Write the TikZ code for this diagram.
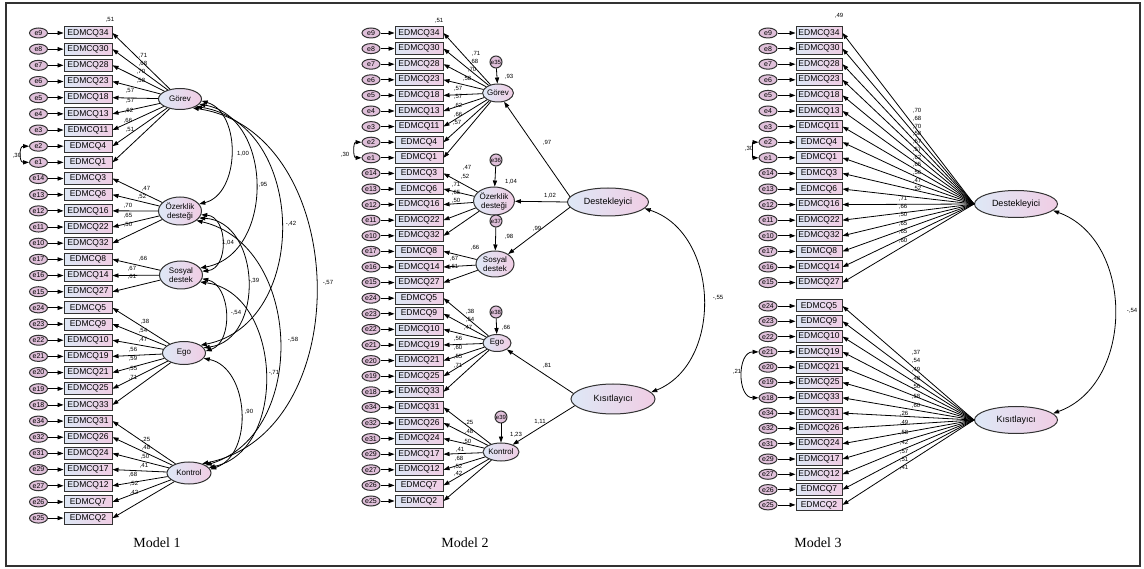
\documentclass[tikz,border=0pt]{standalone}
\usepackage{fontspec}
\setmainfont{Liberation Serif}
\newfontfamily\arialf{Liberation Sans}
\usetikzlibrary{arrows.meta,shapes.geometric}
\definecolor{bxblue}{RGB}{222,232,246}
\definecolor{bxpink}{RGB}{240,205,228}
\definecolor{errfill}{RGB}{224,192,218}
\definecolor{edgec}{RGB}{50,50,50}
\tikzset{
 itembox/.style={draw=edgec, line width=1pt, left color=bxblue, right color=bxpink, minimum width=48pt, minimum height=12pt, inner sep=0pt, font=\arialf\fontsize{8.5}{9}\selectfont},
 errnode/.style={ellipse, draw=edgec, line width=1pt, fill=errfill, minimum width=18pt, minimum height=10pt, inner sep=0pt, font=\arialf\fontsize{7}{7}\selectfont},
 latent/.style={ellipse, draw=edgec, line width=1pt, left color=bxblue, right color=bxpink, inner sep=0pt, font=\arialf\fontsize{8}{9}\selectfont, align=center},
 bigfont/.style={font=\arialf\fontsize{9}{10}\selectfont},
 resid/.style={circle, draw=edgec, line width=1pt, fill=errfill, minimum size=12pt, inner sep=0pt, font=\arialf\fontsize{6}{6}\selectfont},
 val/.style={font=\arialf\fontsize{6}{6}\selectfont, inner sep=0pt},
 arr/.style={-{Triangle[length=6pt,width=4.2pt]}, line width=0.8pt},
 dbl/.style={{Triangle[length=6pt,width=4.2pt]}-{Triangle[length=6pt,width=4.2pt]}, line width=0.8pt},
 title/.style={font=\fontsize{14}{16}\selectfont},
}
\def\itemlist{34/9,30/8,28/7,23/6,18/5,13/4,11/3,4/2,1/1,3/14,6/13,16/12,22/11,32/10,8/17,14/16,27/15,5/24,9/23,10/22,19/21,21/20,25/19,33/18,31/34,26/32,24/31,17/29,12/27,7/26,2/25}
\begin{document}
\begin{tikzpicture}[x=1pt,y=-1pt]
\useasboundingbox (0,0) rectangle (1144,569);
\draw[line width=1.2pt, edgec] (6,3) rectangle (1140,566);

% ---------------- Model 1 ----------------
\foreach [count=\i from 0] \q/\e in \itemlist {
  \pgfmathsetmacro\yy{33+16.17*\i}
  \node[itembox] (m1b\i) at (88,\yy) {EDMCQ\q};
  \node[errnode] (m1e\i) at (38.5,\yy) {e\e};
  \draw[arr] (m1e\i) -- (m1b\i);
}
\node[latent, minimum width=43pt, minimum height=21pt] (m1gor) at (180,99) {Görev};
\node[latent, minimum width=43pt, minimum height=28pt] (m1ozk) at (180,211) {Özerklik\\desteği};
\node[latent, minimum width=43pt, minimum height=28pt] (m1sos) at (181,275) {Sosyal\\destek};
\node[latent, minimum width=43pt, minimum height=23pt] (m1ego) at (184,353) {Ego};
\node[latent, minimum width=44pt, minimum height=22pt] (m1kon) at (189,473) {Kontrol};
\foreach \i in {0,...,8} \draw[arr] (m1gor) -- (m1b\i.east);
\foreach \i in {9,...,13} \draw[arr] (m1ozk) -- (m1b\i.east);
\foreach \i in {14,...,16} \draw[arr] (m1sos) -- (m1b\i.east);
\foreach \i in {17,...,23} \draw[arr] (m1ego) -- (m1b\i.east);
\foreach \i in {24,...,30} \draw[arr] (m1kon) -- (m1b\i.east);
\foreach [count=\n] \x/\y/\t in {143/56/71,143/64/68,141/72/70,141/81/58,130/91/57,130/101/57,129/111/62,128/121/66,130/130/51,
 146/189/47,142/197/52,128/206/70,128/216/65,128/225/50,143/259/66,132/269/67,132/277/61,
 145/322/38,143/331/54,143/340/47,133/350/56,133/359/59,133/369/55,133/378/71,
 146/440/25,146/448/48,145/457/50,144/466/41,133/475/68,134/484/52,134/493/42}
 {\node[val] (m1l\n) at (\x,\y) {,\t};}
\node[val] (m1r2) at (110,20) {,51};
\draw[dbl] (m1e7.west) to[bend right=90, looseness=1.6] (m1e8.west);
\node[val] (m1c) at (17,156) {,30};
% covariances
\draw[dbl] (m1gor.-5) to[bend left=75, looseness=1.04] (m1ozk.20);
\draw[dbl] (m1gor.-15) to[bend left=80, looseness=1.18] (m1sos.20);
\draw[dbl] (m1gor.-25) to[bend left=80, looseness=1.2] (m1ego.25);
\draw[dbl] (m1gor.-35) to[bend left=80, looseness=1.15] (m1kon.35);
\draw[dbl] (m1ozk.-10) to[bend left=85, looseness=1.22] (m1sos.10);
\draw[dbl] (m1ozk.-20) to[bend left=85, looseness=1.22] (m1ego.15);
\draw[dbl] (m1ozk.-30) to[bend left=75, looseness=1.13] (m1kon.25);
\draw[dbl] (m1sos.-10) to[bend left=75, looseness=1.04] (m1ego.5);
\draw[dbl] (m1sos.-20) to[bend left=80, looseness=1.13] (m1kon.15);
\draw[dbl] (m1ego.-15) to[bend left=75, looseness=1.07] (m1kon.10);
\node[val] (m1c1) at (243,154) {1,00};
\node[val] (m1c2) at (263,185) {,95};
\node[val] (m1c3) at (291,224) {-,42};
\node[val] (m1c4) at (328,283) {-,57};
\node[val] (m1c5) at (228,243) {1,04};
\node[val] (m1c6) at (254,281) {-,39};
\node[val] (m1c7) at (293,340) {-,58};
\node[val] (m1c8) at (236,313) {-,54};
\node[val] (m1c9) at (274,373) {-,71};
\node[val] (m1c10) at (249,412) {,90};
\node[title] (t1) at (157,543) {Model 1};

% ---------------- Model 2 ----------------
\foreach [count=\i from 0] \q/\e in \itemlist {
  \pgfmathsetmacro\yy{33+15.6*\i}
  \node[itembox] (m2b\i) at (419,\yy) {EDMCQ\q};
  \node[errnode] (m2e\i) at (371,\yy) {e\e};
  \draw[arr] (m2e\i) -- (m2b\i);
}
\node[latent, minimum width=27pt, minimum height=18pt] (m2gor) at (498,93) {Görev};
\node[latent, minimum width=38pt, minimum height=28pt] (m2ozk) at (494,201) {Özerklik\\desteği};
\node[latent, minimum width=38pt, minimum height=26pt] (m2sos) at (495,264) {Sosyal\\destek};
\node[latent, minimum width=28pt, minimum height=17pt] (m2ego) at (497,343) {Ego};
\node[latent, minimum width=36pt, minimum height=18pt] (m2kon) at (501,452) {Kontrol};
\foreach \i in {0,...,8} \draw[arr] (m2gor) -- (m2b\i.east);
\foreach \i in {9,...,13} \draw[arr] (m2ozk) -- (m2b\i.east);
\foreach \i in {14,...,16} \draw[arr] (m2sos) -- (m2b\i.east);
\foreach \i in {17,...,23} \draw[arr] (m2ego) -- (m2b\i.east);
\foreach \i in {24,...,30} \draw[arr] (m2kon) -- (m2b\i.east);
\foreach [count=\n] \x/\y/\t in {476/54/71,474/62/68,472/70/70,467/79/58,458/89/57,458/97/57,458/106/62,458/115/66,457/123/57,
 467/168/47,465/177/52,456/185/71,456/193/65,456/201/50,475/248/66,454/259/67,454/267/61,
 470/312/38,470/320/54,468/328/47,458/339/56,458/348/60,458/357/55,458/366/71,
 469/423/25,469/432/48,467/442/50,460/450/41,459/459/68,458/467/52,458/474/42}
 {\node[val] (m2l\n) at (\x,\y) {,\t};}
\node[val] (m2r2) at (439,21) {,51};
\draw[dbl] (m2e7.west) to[bend right=90, looseness=1.4] (m2e8.west);
\node[val] (m2c) at (345,155) {,30};
\node[resid] (m2r35) at (496,62) {e35};
\node[resid] (m2r36) at (496,160) {e36};
\node[resid] (m2r37) at (496,221) {e37};
\node[resid] (m2r38) at (496,312) {e38};
\node[resid] (m2r39) at (501,417) {e39};
\draw[arr] (m2r35) -- (m2gor);
\draw[arr] (m2r36) -- (m2ozk);
\draw[arr] (m2r37) -- (m2sos);
\draw[arr] (m2r38) -- (m2ego);
\draw[arr] (m2r39) -- (m2kon);
\node[val] (m2v1) at (509,77) {,93};
\node[val] (m2v2) at (511,182) {1,04};
\node[val] (m2v3) at (509,237) {,98};
\node[val] (m2v4) at (506,328) {,66};
\node[val] (m2v5) at (516,435) {1,23};
\node[latent, bigfont, minimum width=81pt, minimum height=28pt] (m2des) at (608,202) {Destekleyici};
\node[latent, bigfont, minimum width=84pt, minimum height=30pt] (m2kis) at (613,399) {Kısıtlayıcı};
\draw[arr] (m2des.172) -- (m2gor);
\draw[arr] (m2des.west) -- (m2ozk);
\draw[arr] (m2des.188) -- (m2sos);
\draw[arr] (m2kis.172) -- (m2ego);
\draw[arr] (m2kis.190) -- (m2kon);
\node[val] (m2p1) at (547,143) {,97};
\node[val] (m2p2) at (550,196) {1,02};
\node[val] (m2p3) at (537,229) {,99};
\node[val] (m2p4) at (547,366) {,81};
\node[val] (m2p5) at (540,422) {1,11};
\draw[dbl] (m2des.-10) to[bend left=70, looseness=1.09] (m2kis.10);
\node[val] (m2p6) at (718,298) {-,55};
\node[title] (t2) at (465,543) {Model 2};

% ---------------- Model 3 ----------------
\foreach [count=\i from 0] \q/\e in \itemlist {
  \pgfmathsetmacro\yy{\i<17 ? 33+15.6*\i : 306+15.3*(\i-17)}
  \node[itembox, minimum width=46pt] (m3b\i) at (819,\yy) {EDMCQ\q};
  \node[errnode] (m3e\i) at (768,\yy) {e\e};
  \draw[arr] (m3e\i) -- (m3b\i);
}
\node[latent, bigfont, minimum width=83pt, minimum height=27pt] (m3des) at (1016,204) {Destekleyici};
\node[latent, bigfont, minimum width=83pt, minimum height=27pt] (m3kis) at (1016,420) {Kısıtlayıcı};
\foreach \i in {0,...,16} \draw[arr] (m3des.west) -- (m3b\i.east);
\foreach \i in {17,...,30} \draw[arr] (m3kis.west) -- (m3b\i.east);
\foreach [count=\n] \x/\y/\t in {917/111/70,917/118.75/68,917/126.5/70,917/134.25/58,917/142/57,917/149.75/57,917/157.5/62,917/165.25/65,917/173/56,917/181/47,917/189/52,
 903/199/71,903/207/66,903/215/50,903/224/65,903/232/65,903/241/60,
 916/353/37,916/361/54,916/370/49,916/379/48,916/387/56,916/397/58,916/406/60,
 904/414/26,904/423/49,904/433/58,904/443/42,904/452/57,904/460/51,904/468/41}
 {\node[val] (m3l\n) at (\x,\y) {,\t};}
\node[val] (m3r2) at (839,16) {,49};
\draw[dbl] (m3e7.west) to[bend right=90, looseness=1.0] (m3e8.west);
\node[val] (m3c) at (749,149) {,30};
\draw[dbl] (m3e20.west) to[bend right=90, looseness=1.2] (m3e23.west);
\node[val] (m3c2) at (737,372) {,21};
\draw[dbl] (m3des.-10) to[bend left=70, looseness=1.1] (m3kis.10);
\node[val] (m3p) at (1132,311) {-,54};
\node[title] (t3) at (818,543) {Model 3};
\end{tikzpicture}
\end{document}
